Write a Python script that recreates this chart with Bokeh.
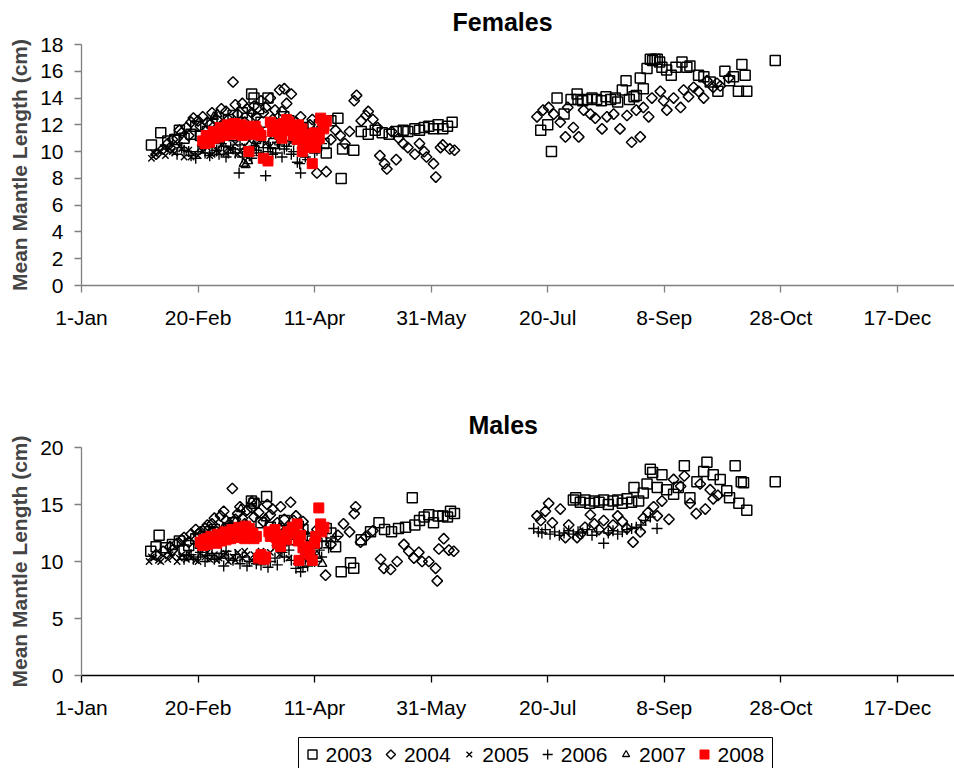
import numpy as np
from bokeh.plotting import figure
from bokeh.models import Range1d, FixedTicker, Title
from bokeh.layouts import column
from bokeh.core.properties import value
from bokeh.embed import file_html
from bokeh.resources import INLINE

# ---------------- data ----------------
tick_days = [1, 51, 101, 151, 201, 251, 301, 351]
tick_labels = ["1-Jan", "20-Feb", "11-Apr", "31-May", "20-Jul", "8-Sep", "28-Oct", "17-Dec"]
years = ["2003", "2004", "2005", "2006", "2007", "2008"]

# Females
f2003_day = [31, 35, 38, 41, 43, 45, 48, 50, 52, 55, 57, 58, 60, 62, 64, 66, 67, 70, 72, 74, 75, 77, 78, 81, 83.5, 85, 87.8, 90, 92, 93, 96, 98, 100, 102, 103, 105, 106, 108, 111, 112.4, 113, 117.8, 121, 124, 127, 130, 133, 136, 139, 141, 144, 146, 148, 150, 152, 154, 156, 158, 160,
             198, 201, 202.6, 205, 208, 211, 213.6, 214, 216, 218, 220, 222, 224, 226, 228, 230, 231, 233, 234.6, 236, 238, 239, 240.7, 242, 243.6, 245, 246, 247, 248, 249, 250, 252, 254, 256, 258.6, 260.7, 262, 265.7, 268, 270.7, 274, 277, 279, 280.7, 282.8, 284.3, 285.7, 286.4, 298.6]
f2003_val = [10.5, 11.4, 10.8, 10.9, 11.6, 11.0, 11.3, 11.9, 11.2, 11.5, 12.1, 11.3, 11.0, 11.8, 12.4, 12.7, 11.6, 12.9, 12.5, 14.3, 14.0, 13.2, 12.2, 14.0, 10.6, 11.5, 12.6, 12.3, 11.9, 11.5, 11.8, 10.8, 10.6, 11.2, 12.0, 10.6, 9.9, 12.3, 12.5, 8.0, 10.2, 10.1, 11.5, 11.3, 11.6, 11.4, 11.3, 11.5, 11.6, 11.5, 11.7, 11.6, 11.8, 11.9, 11.7, 12.0, 11.7, 11.9, 12.2,
             11.6, 12.0, 10.0, 14.0, 12.8, 13.9, 14.3, 13.9, 13.8, 13.9, 14.0, 13.9, 13.8, 14.1, 13.9, 14.0, 13.7, 14.6, 15.3, 13.9, 14.1, 14.2, 15.5, 14.7, 16.2, 16.9, 16.8, 16.9, 16.9, 16.7, 16.3, 16.1, 15.7, 16.3, 16.7, 16.3, 16.4, 15.7, 15.6, 15.2, 14.5, 16.0, 15.3, 15.6, 14.5, 16.5, 15.7, 14.5, 16.8]

f2004_day = [33, 36, 38, 39, 40, 42, 43, 44, 46, 47, 48, 49, 51, 52, 53, 55, 56, 57, 59, 60, 61, 63, 64, 66, 67, 68, 70, 71, 72, 74, 75, 76, 78, 79, 80, 82, 83, 84, 86, 87, 88, 89, 90, 91, 93, 94, 95, 97, 98, 99, 100, 102, 104, 106, 108, 110, 112, 114, 116, 118, 119, 121, 123, 124, 126, 128, 129, 131, 132, 134, 136, 137, 139, 141, 144, 146, 148, 149, 152, 153, 155, 156, 159, 161,
             196.4, 199, 201.4, 203.6, 206.4, 208.6, 209.6, 212, 214.3, 216.4, 219.3, 221.4, 224.3, 226.4, 229.3, 232, 235, 237, 239, 240.7, 242, 244.3, 245.7, 249.3, 250.7, 252.1, 255, 258, 259.3, 261.4, 263.6, 265.7, 267.9, 269.3, 272, 273.6, 275, 278.6]
f2004_val = [9.8, 10.2, 10.6, 10.3, 10.9, 11.0, 11.6, 11.4, 11.8, 11.2, 12.2, 12.5, 12.3, 11.9, 12.6, 12.2, 12.0, 12.9, 12.4, 11.7, 13.2, 13.0, 12.4, 15.2, 13.5, 12.8, 13.6, 12.2, 13.2, 12.9, 13.4, 12.6, 13.8, 12.9, 13.3, 14.0, 12.4, 13.1, 14.6, 13.0, 14.7, 13.6, 12.1, 14.3, 12.2, 11.6, 12.6, 11.4, 11.1, 12.0, 12.4, 8.4, 11.8, 8.5, 10.9, 11.6, 11.2, 10.6, 11.5, 13.8, 14.2, 12.3, 12.7, 13.0, 12.4, 11.8, 9.7, 9.1, 8.7, 11.5, 9.4, 11.0, 10.6, 10.3, 9.8, 10.6, 10.0, 9.6, 9.1, 8.1, 10.3, 10.5, 10.2, 10.1,
             12.6, 13.1, 13.3, 12.8, 12.2, 11.1, 13.3, 11.8, 11.1, 13.1, 12.8, 12.5, 11.7, 12.6, 12.8, 11.7, 12.7, 10.7, 13.1, 11.1, 13.3, 12.6, 14.0, 14.5, 13.8, 13.1, 14.0, 13.3, 14.6, 14.1, 14.8, 14.5, 14.0, 15.3, 14.8, 15.1, 14.9, 15.5]

f2005_day = [31, 32, 33, 35, 36, 37, 39, 40, 41, 43, 44, 45, 47, 48, 49, 51, 52, 53, 55, 56, 57, 59, 60, 61, 63, 64, 65, 67, 68, 69, 71, 72, 73, 75, 76, 77, 79, 80, 82, 83, 85, 86, 88, 91]
f2005_val = [9.5, 9.9, 9.8, 10.0, 10.3, 9.7, 10.2, 10.0, 9.9, 10.4, 10.2, 9.6, 10.1, 9.6, 9.8, 9.7, 10.3, 10.0, 10.3, 9.7, 9.8, 10.1, 9.9, 10.5, 9.9, 10.3, 10.2, 10.6, 9.8, 10.0, 10.4, 10.0, 10.8, 10.3, 10.6, 11.0, 10.9, 10.6, 10.4, 11.2, 10.8, 11.5, 11.0, 10.7]

f2006_day = [42, 44, 45, 47, 48, 50, 51, 53, 54, 56, 57, 59, 60, 61, 62, 63, 64, 65, 66, 67, 68.6, 69, 70, 71, 72, 73, 74, 75, 76, 77, 78, 79, 80, 81, 82, 83, 84.3, 85, 86, 87, 88, 89, 90, 91, 92, 93.6, 94.6, 95, 96, 97, 98, 99, 100, 101, 102, 104]
f2006_val = [9.8, 10.3, 10.1, 10.0, 9.7, 9.5, 10.0, 10.4, 9.9, 9.7, 10.3, 10.1, 9.8, 10.6, 10.4, 9.6, 9.9, 10.3, 10.2, 9.9, 8.4, 10.5, 9.6, 10.2, 10.0, 9.7, 9.5, 10.4, 10.1, 9.9, 9.7, 10.3, 8.2, 10.0, 10.3, 9.8, 9.9, 10.7, 10.5, 9.6, 10.2, 10.4, 10.8, 9.8, 10.0, 9.2, 9.1, 8.4, 10.0, 9.6, 9.4, 10.3, 10.5, 9.9, 10.1, 10.6]

f2007_day = [57.8, 59.3, 62, 66, 70.6, 71.4, 72.5, 76, 85, 92, 98]
f2007_val = [12.6, 12.8, 12.1, 11.0, 9.1, 9.0, 9.3, 10.8, 11.9, 11.2, 10.4]

f2008_day = [53, 54, 54.5, 56, 56, 57.5, 58, 59, 60, 60.5, 62, 62, 63.5, 64, 65, 66, 66.5, 68, 68, 69.5, 70, 71, 72, 72.8, 74, 74, 75.5, 76, 77, 78, 79, 81, 82, 83, 84, 85, 86, 87, 87.5, 88, 89, 90, 91, 92, 92, 93.5, 94, 95.6, 95.7, 96, 97, 97.9, 99, 100, 101, 101.4, 102, 103, 103.6, 104.3, 104.9, 105, 106]
f2008_val = [10.8, 10.6, 11.2, 11.0, 10.7, 11.5, 11.0, 11.4, 11.1, 11.8, 11.6, 11.2, 12.0, 11.3, 11.7, 11.3, 12.1, 11.8, 11.4, 12.0, 11.2, 11.9, 11.5, 10.0, 11.8, 11.3, 11.9, 11.6, 11.4, 11.2, 9.5, 9.3, 12.2, 11.5, 11.8, 12.0, 11.3, 11.0, 12.1, 11.6, 12.4, 12.2, 11.6, 11.8, 11.2, 10.9, 12.0, 11.7, 10.0, 10.6, 11.3, 10.3, 11.0, 9.1, 11.4, 10.3, 10.9, 11.0, 12.5, 12.3, 11.7, 11.9, 12.3]

# Males
m2003_day = [30.7, 33, 34.3, 37, 40, 43, 45, 47, 50, 52, 54, 56, 58, 60, 62, 64, 66, 68, 70, 73.9, 75, 78, 80.4, 82, 84, 86, 88, 90, 92, 94, 96, 98, 100, 102, 104, 106, 108, 110, 112.4, 116.4, 117.8, 121, 125, 128.6, 131, 134, 137, 140, 142.9, 144, 146, 148, 150, 152, 154, 156, 158, 159.3, 161,
             212, 213, 215, 217, 219, 221, 223, 225, 227, 229, 231, 233, 235, 237, 238, 240, 242, 243.6, 245, 246, 248, 250, 252, 255, 257, 259.6, 262, 265, 267.9, 269.3, 272, 275, 277.8, 279, 281.4, 283, 284, 285, 286.4, 298.6]
m2003_val = [10.9, 11.3, 12.3, 11.2, 11.5, 11.8, 11.0, 11.4, 12.0, 11.6, 12.2, 12.6, 12.8, 11.9, 12.5, 12.9, 13.4, 12.2, 13.0, 15.3, 15.1, 13.4, 15.7, 13.0, 12.3, 12.2, 13.6, 11.9, 12.4, 13.1, 12.8, 12.0, 11.8, 11.6, 12.2, 12.9, 12.5, 11.3, 9.1, 9.9, 9.4, 11.9, 12.6, 13.4, 12.8, 12.6, 12.9, 13.0, 15.6, 13.2, 13.6, 13.9, 14.1, 13.4, 14.0, 14.0, 13.9, 14.4, 14.2,
             15.4, 15.6, 15.2, 15.4, 15.1, 15.3, 15.2, 15.4, 15.0, 15.3, 15.4, 15.1, 15.5, 15.2, 16.5, 15.3, 16.0, 16.8, 18.1, 17.8, 16.5, 17.6, 16.3, 15.9, 16.5, 18.4, 15.6, 17.0, 17.9, 18.7, 17.6, 17.2, 16.2, 15.6, 18.4, 15.1, 17.0, 16.9, 14.5, 17.0]

m2004_day = [33, 36, 39, 40, 42, 44, 45, 47, 48, 50, 51, 52, 54, 55, 57, 58, 59, 60.7, 62, 63, 64, 65.7, 67, 68, 69, 70, 71, 72, 74, 75, 76, 77, 79, 80.7, 82, 83, 85, 86.4, 88, 89, 90.7, 92, 93, 95, 96, 98, 99, 101, 102, 105.7, 108, 111, 113.4, 116, 118, 118.6, 120.7, 123, 126, 129.3, 130.7, 133.6, 136.4, 139.3, 141.4, 143.6, 145.7, 147.1, 150, 152.9, 153.6, 154.3, 156.4, 158.6, 160.7,
             196.4, 198, 200, 201.4, 203, 206.4, 208.6, 210, 213.6, 215, 217, 219.3, 221, 223, 225, 227, 229, 231, 233, 235, 237.6, 240.7, 242, 244, 246.4, 248, 250, 253, 255, 258, 259.6, 262.1, 264.7, 266.4, 268.6, 270.7, 272, 274]
m2004_val = [10.6, 10.9, 11.3, 11.0, 11.6, 11.9, 12.1, 11.7, 12.4, 12.8, 12.4, 12.6, 12.9, 13.2, 13.3, 13.8, 12.6, 14.0, 14.4, 13.6, 13.2, 16.4, 13.7, 14.2, 14.8, 13.8, 13.3, 14.5, 14.7, 13.9, 15.1, 14.3, 13.5, 15.0, 14.1, 14.6, 13.4, 14.8, 13.7, 12.8, 15.2, 13.6, 14.0, 12.6, 13.5, 12.2, 10.2, 11.8, 12.8, 8.8, 11.5, 12.3, 13.3, 12.6, 14.2, 14.8, 11.7, 12.2, 12.7, 10.2, 9.4, 9.3, 10.0, 11.5, 10.9, 10.3, 10.8, 10.0, 10.0, 9.4, 8.3, 11.1, 12.0, 11.0, 10.9,
             14.0, 13.6, 14.4, 15.1, 13.4, 14.6, 12.1, 13.2, 12.1, 12.4, 13.0, 14.1, 13.3, 12.8, 13.6, 12.7, 13.2, 14.0, 13.5, 12.9, 11.7, 12.6, 13.8, 14.3, 14.8, 14.0, 15.3, 13.7, 17.2, 16.6, 17.5, 15.1, 14.2, 16.8, 14.6, 16.3, 15.5, 15.8]

m2005_day = [30, 31, 32, 34, 35, 36, 38, 39, 40, 42, 43, 44, 46, 47, 48, 50, 51, 52, 54, 55, 56, 58, 59, 60, 62, 63, 64, 66, 67, 68, 70, 71, 72, 74, 75, 76, 78, 79, 80, 82, 84, 86, 88, 90]
m2005_val = [10.0, 10.4, 10.3, 10.1, 10.0, 10.5, 10.2, 10.6, 10.4, 10.0, 10.3, 10.6, 10.2, 10.7, 10.3, 10.1, 10.0, 10.7, 10.4, 10.8, 10.2, 10.6, 10.1, 10.3, 10.5, 10.7, 10.0, 10.4, 10.1, 10.8, 10.3, 10.9, 10.6, 10.1, 10.6, 10.4, 10.9, 10.2, 10.5, 10.8, 11.2, 10.6, 11.6, 10.3]

m2006_day = [45, 46, 48, 49, 51, 52, 54, 55, 57, 58, 60, 61, 62, 63, 64, 66, 67, 69, 70, 72, 73, 75, 76, 78, 79, 81, 82, 84, 85, 87, 88, 90, 91, 93, 94, 95, 96, 97, 98, 100, 101, 103, 104, 106, 107, 110,
             195, 197, 198.5, 200, 202, 204, 206, 208, 210, 212, 214, 216, 218, 220, 222, 225, 227, 229, 231, 233, 235, 237, 239, 241, 243, 245, 247.9]
m2006_val = [10.2, 10.5, 10.6, 10.2, 10.4, 10.8, 10.0, 10.5, 10.7, 10.2, 10.3, 10.7, 9.6, 10.9, 10.3, 10.1, 10.6, 9.8, 10.4, 9.6, 10.0, 10.2, 9.8, 9.7, 10.3, 9.5, 10.0, 10.3, 9.7, 10.8, 10.4, 11.0, 10.1, 9.4, 9.8, 9.1, 9.5, 10.2, 9.6, 10.6, 10.0, 11.0, 10.4, 11.8, 11.2, 12.2,
             12.9, 12.6, 12.5, 12.8, 12.4, 12.6, 12.3, 12.5, 12.7, 12.4, 12.6, 12.5, 12.8, 12.3, 12.6, 11.6, 12.5, 12.7, 12.4, 12.6, 12.8, 12.9, 13.0, 13.2, 13.6, 13.9, 12.9]

m2007_day = [57, 62, 67, 69.4, 74, 80, 86, 92, 98, 102, 104.3]
m2007_val = [12.6, 13.0, 13.5, 14.6, 15.3, 13.8, 13.0, 12.4, 11.3, 10.5, 9.8]

m2008_day = [52, 53, 53.5, 55, 55, 56.5, 57, 58, 59, 59.5, 61, 61, 62.5, 63, 64, 65, 65.5, 67, 67, 68.5, 69, 70, 71, 71.5, 73, 73, 74.5, 75, 76, 77, 78, 79.3, 80, 81.4, 82, 83, 84, 84.5, 85, 86.4, 86.4, 87, 88, 89, 89.5, 90, 91.4, 92, 93.5, 94, 94.3, 95, 96, 97, 97.9, 99, 100, 101, 101.5, 102.8, 103.6, 103.6, 104, 105]
m2008_val = [11.7, 11.4, 11.9, 12.0, 11.5, 12.2, 11.7, 12.1, 11.6, 12.4, 12.3, 11.8, 12.6, 11.9, 12.5, 12.0, 12.8, 12.7, 12.1, 13.0, 12.2, 12.8, 12.0, 13.1, 12.9, 12.3, 12.5, 12.0, 12.2, 10.3, 10.6, 10.2, 10.4, 12.6, 12.2, 12.4, 12.8, 12.1, 11.6, 11.8, 11.3, 12.3, 12.0, 11.9, 12.6, 12.5, 13.0, 12.8, 13.3, 11.8, 10.1, 12.3, 11.2, 10.9, 11.3, 10.6, 10.1, 11.6, 12.2, 14.7, 13.3, 12.8, 12.6, 13.0]

FONT = "Liberation Sans"
GRAY = "#808080"
W = 954
LEFT = 81

styles = {
    "2003": dict(marker="square", size=10, line_color="black", fill_color=None, line_width=1.5),
    "2004": dict(marker="square", size=7.5, angle=np.pi / 4, line_color="black", fill_color=None, line_width=1.5),
    "2005": dict(marker="x", size=9, line_color="black", line_width=1.4),
    "2006": dict(marker="cross", size=11, line_color="black", line_width=1.4),
    "2007": dict(marker="triangle", size=9, line_color="black", fill_color=None, line_width=1.4),
    "2008": dict(marker="square", size=10, line_color="#FF0000", fill_color="#FF0000", line_width=1),
}
legend_styles = {
    "2003": dict(marker="square", size=9, line_color="black", fill_color=None, line_width=1.4),
    "2004": dict(marker="square", size=6.5, angle=np.pi / 4, line_color="black", fill_color=None, line_width=1.4),
    "2005": dict(marker="x", size=8, line_color="black", line_width=1.3),
    "2006": dict(marker="cross", size=10, line_color="black", line_width=1.3),
    "2007": dict(marker="triangle", size=7, line_color="black", fill_color=None, line_width=1.3),
    "2008": dict(marker="square", size=9, line_color="#FF0000", fill_color="#FF0000", line_width=1),
}


def make_panel(title, title_offset, title_valign, title_standoff, height, top, bottom, ymax, yticks, series, xcolor, ycolor):
    p = figure(width=W, height=height, output_backend="svg", toolbar_location=None,
               x_range=Range1d(1, 375.5), y_range=Range1d(0, ymax),
               min_border_left=LEFT, min_border_right=0, min_border_top=top, min_border_bottom=bottom)
    p.outline_line_color = None
    p.xgrid.grid_line_color = None
    p.ygrid.grid_line_color = None
    p.title = Title(text=title, align="left", offset=title_offset, vertical_align=title_valign,
                    standoff=title_standoff, text_font=FONT, text_font_size="25px",
                    text_font_style="bold", text_color="black")
    p.xaxis.ticker = FixedTicker(ticks=tick_days)
    p.xaxis.major_label_overrides = {d: l for d, l in zip(tick_days, tick_labels)}
    p.yaxis.ticker = FixedTicker(ticks=yticks)
    for ax, col in ((p.xaxis, xcolor), (p.yaxis, ycolor)):
        ax.axis_line_color = col
        ax.major_tick_line_color = col
        ax.axis_line_width = 1.3
        ax.major_tick_line_width = 1.3
        ax.minor_tick_line_color = None
        ax.major_tick_out = 7
        ax.major_tick_in = 0
        ax.major_label_text_font = FONT
        ax.major_label_text_font_size = "21px"
        ax.major_label_text_color = "black"
    p.xaxis.major_label_standoff = 13
    p.yaxis.major_label_standoff = 11
    p.yaxis.axis_label = "Mean Mantle Length (cm)"
    p.yaxis.axis_label_text_font = FONT
    p.yaxis.axis_label_text_font_size = "21px"
    p.yaxis.axis_label_text_font_style = "bold"
    p.yaxis.axis_label_standoff = 6
    for yr, (xs, ys) in zip(years, series):
        p.scatter(xs, ys, **styles[yr])
    return p


p1 = make_panel("Females", 371, "top", 13, 380, 44, 95, 18, list(range(0, 19, 2)),
                [(f2003_day, f2003_val), (f2004_day, f2004_val), (f2005_day, f2005_val),
                 (f2006_day, f2006_val), (f2007_day, f2007_val), (f2008_day, f2008_val)],
                GRAY, GRAY)
p2 = make_panel("Males", 387, "bottom", 17, 345, 67, 50, 20, [0, 5, 10, 15, 20],
                [(m2003_day, m2003_val), (m2004_day, m2004_val), (m2005_day, m2005_val),
                 (m2006_day, m2006_val), (m2007_day, m2007_val), (m2008_day, m2008_val)],
                "black", GRAY)

# legend strip (frame aligned with the panels above: x units = page pixels)
LH = 43
pl = figure(width=W, height=LH, output_backend="svg", toolbar_location=None,
            x_range=Range1d(LEFT, W), y_range=Range1d(0, LH),
            x_axis_location=None, y_axis_location=None,
            min_border_left=LEFT, min_border_right=0, min_border_top=0, min_border_bottom=0)
pl.outline_line_color = None
pl.xgrid.grid_line_color = None
pl.ygrid.grid_line_color = None
pl.quad(left=[298], right=[772], top=[LH - 12], bottom=[-3], fill_color="white",
        line_color="black", line_width=1)
x0, step, ymid = 312, 78.4, LH - 29
for i, yr in enumerate(years):
    pl.scatter([x0 + i * step], [ymid], **legend_styles[yr])
pl.text(x=[x0 + 13 + i * step for i in range(len(years))], y=[ymid] * len(years), text=years,
        text_font=value(FONT), text_font_size=value("21px"), text_color="black",
        text_align="left", text_baseline="middle")

layout = column(p1, p2, pl, spacing=0)
open("out.html", "w").write(file_html(layout, INLINE))
